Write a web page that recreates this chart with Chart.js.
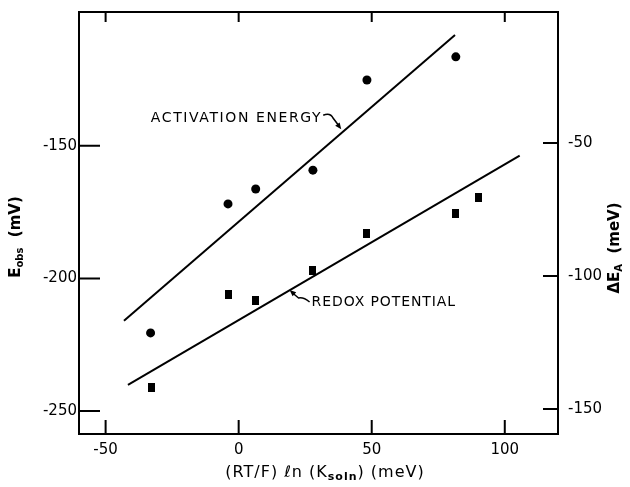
<!DOCTYPE html>
<html>
<head>
<meta charset="utf-8">
<script src="https://cdn.jsdelivr.net/npm/chart.js@4"></script>
<style>
  body { margin: 0; background: #fff; }
  #wrap { width: 630px; height: 487px; position: relative; }
</style>
</head>
<body>
<div id="wrap"><canvas id="chart"></canvas></div>
<script>
// data
const xCircle = [-33.1, -4.0, 6.4, 27.9, 48.2, 81.6];
const activationEnergy = [-121.4, -72.9, -67.3, -60.2, -26.3, -17.6]; // meV, right axis
const xSquare = [-32.6, -4.0, 6.4, 27.6, 48.2, 81.5, 90.0];
const redoxPotential = [-241.2, -206.0, -208.2, -197.2, -183.1, -175.5, -169.5]; // mV, left axis
const activationFitX = [-43.1, 81.3];
const activationFitY = [-116.8, -9.4];
const redoxFitX = [-41.6, 105.6];
const redoxFitY = [-240.2, -153.7];
const xTicks = [-50, 0, 50, 100];
const leftTicks = [-250, -200, -150];
const rightTicks = [-150, -100, -50];

const FONT = "'DejaVu Sans', sans-serif";
const pts = (xs, ys) => xs.map((x, i) => ({ x, y: ys[i] }));

// small upright black box for the redox points
const box = document.createElement("canvas");
box.width = 7; box.height = 9;
const bctx = box.getContext("2d");
bctx.fillStyle = "#000";
bctx.fillRect(0, 0, 7, 9);

function drawRich(ctx, parts, cx, cy, angle, spacing) {
  ctx.save();
  ctx.translate(cx, cy);
  ctx.rotate(angle);
  ctx.letterSpacing = (spacing || 0) + "px";
  let w = 0;
  parts.forEach(p => { ctx.font = p.font; w += ctx.measureText(p.text).width; });
  let x = -w / 2;
  ctx.textBaseline = "middle";
  ctx.textAlign = "left";
  parts.forEach(p => {
    ctx.font = p.font;
    ctx.fillText(p.text, x, p.dy || 0);
    x += ctx.measureText(p.text).width;
  });
  ctx.restore();
}

function arrowHead(ctx, fx, fy, tx, ty) {
  const a = Math.atan2(ty - fy, tx - fx);
  ctx.beginPath();
  ctx.moveTo(tx, ty);
  ctx.lineTo(tx - 7 * Math.cos(a - 0.4), ty - 7 * Math.sin(a - 0.4));
  ctx.lineTo(tx - 7 * Math.cos(a + 0.4), ty - 7 * Math.sin(a + 0.4));
  ctx.closePath();
  ctx.fill();
}

const decor = {
  id: "decor",
  afterDatasetsDraw(chart) {
    const { ctx, chartArea: a, scales } = chart;
    const sx = scales.x, sl = scales.y, sr = scales.y1;
    ctx.save();
    ctx.strokeStyle = "#000";
    ctx.fillStyle = "#000";
    ctx.lineWidth = 2;
    ctx.strokeRect(a.left, a.top, a.right - a.left, a.bottom - a.top);

    ctx.font = "15px " + FONT;
    ctx.beginPath();
    xTicks.forEach(v => {
      const p = sx.getPixelForValue(v);
      ctx.moveTo(p, a.bottom); ctx.lineTo(p, a.bottom - 14);
      ctx.moveTo(p, a.top); ctx.lineTo(p, a.top + 10);
    });
    leftTicks.forEach(v => {
      const p = sl.getPixelForValue(v);
      ctx.moveTo(a.left, p); ctx.lineTo(a.left + 21, p);
    });
    rightTicks.forEach(v => {
      const p = sr.getPixelForValue(v);
      ctx.moveTo(a.right, p); ctx.lineTo(a.right - 15, p);
    });
    ctx.stroke();

    ctx.textBaseline = "middle";
    ctx.textAlign = "center";
    xTicks.forEach(v => ctx.fillText(String(v), sx.getPixelForValue(v), a.bottom + 16));
    ctx.textAlign = "right";
    leftTicks.forEach(v => ctx.fillText(String(v), a.left - 2, sl.getPixelForValue(v)));
    ctx.textAlign = "left";
    rightTicks.forEach(v => ctx.fillText(String(v), a.right + 10, sr.getPixelForValue(v)));

    // axis titles
    const big = "15px " + FONT, sub = "10px " + FONT;
    drawRich(ctx, [
      { text: "E", font: "bold " + big },
      { text: "obs", font: "bold " + sub, dy: 4 },
      { text: "  (mV)", font: "bold " + big }
    ], 16, 237, -Math.PI / 2);
    drawRich(ctx, [
      { text: "ΔE", font: "bold " + big },
      { text: "A", font: "bold " + sub, dy: 4 },
      { text: "  (meV)", font: "bold " + big }
    ], 615, 248, -Math.PI / 2);
    drawRich(ctx, [
      { text: "(RT/F) ℓn (K", font: "16px " + FONT },
      { text: "soln", font: "bold 11px " + FONT, dy: 4 },
      { text: ") (meV)", font: "16px " + FONT }
    ], 325, 473, 0, 1);

    // annotations with leaders
    ctx.font = "14px " + FONT;
    ctx.textAlign = "left";
    ctx.textBaseline = "middle";
    ctx.letterSpacing = "1.6px";
    const ax = sx.getPixelForValue(-33), ay = sl.getPixelForValue(-139.6);
    ctx.fillText("ACTIVATION ENERGY", ax, ay);
    const aEnd = ax + ctx.measureText("ACTIVATION ENERGY").width;
    ctx.letterSpacing = "0.9px";
    const rx = sx.getPixelForValue(27.4), ry = sl.getPixelForValue(-208.9);
    ctx.fillText("REDOX POTENTIAL", rx, ry);
    ctx.letterSpacing = "0px";

    ctx.lineWidth = 1.5;
    ctx.beginPath();
    ctx.moveTo(aEnd + 1, ay - 3);
    ctx.quadraticCurveTo(aEnd + 8, ay - 6, aEnd + 11, ay);
    ctx.lineTo(aEnd + 17, ay + 8);
    ctx.stroke();
    arrowHead(ctx, aEnd + 11, ay, aEnd + 19, ay + 11);

    ctx.beginPath();
    ctx.moveTo(rx - 2, ry);
    ctx.quadraticCurveTo(rx - 8, ry - 5, rx - 13, ry - 4);
    ctx.lineTo(rx - 19, ry - 9);
    ctx.stroke();
    arrowHead(ctx, rx - 13, ry - 4, rx - 22, ry - 12);
    ctx.restore();
  }
};

new Chart(document.getElementById("chart"), {
  type: "scatter",
  data: {
    datasets: [
      {
        label: "Activation energy fit",
        data: pts(activationFitX, activationFitY),
        yAxisID: "y1",
        showLine: true,
        borderColor: "#000",
        borderWidth: 2,
        pointRadius: 0
      },
      {
        label: "Redox potential fit",
        data: pts(redoxFitX, redoxFitY),
        yAxisID: "y",
        showLine: true,
        borderColor: "#000",
        borderWidth: 2,
        pointRadius: 0
      },
      {
        label: "Activation energy",
        data: pts(xCircle, activationEnergy),
        yAxisID: "y1",
        pointStyle: "circle",
        pointRadius: 4.5,
        backgroundColor: "#000",
        borderColor: "#000",
        borderWidth: 0
      },
      {
        label: "Redox potential",
        data: pts(xSquare, redoxPotential),
        yAxisID: "y",
        pointStyle: box,
        backgroundColor: "#000",
        borderColor: "#000"
      }
    ]
  },
  options: {
    responsive: true,
    maintainAspectRatio: false,
    animation: false,
    layout: { padding: { left: 79, top: 12, right: 72, bottom: 53 } },
    plugins: { legend: { display: false }, tooltip: { enabled: false } },
    scales: {
      x: { type: "linear", min: -60, max: 120, display: false },
      y: { type: "linear", min: -258.7, max: -99.5, display: false },
      y1: { type: "linear", min: -159.4, max: -0.75, display: false }
    }
  },
  plugins: [decor]
});
</script>
</body>
</html>
